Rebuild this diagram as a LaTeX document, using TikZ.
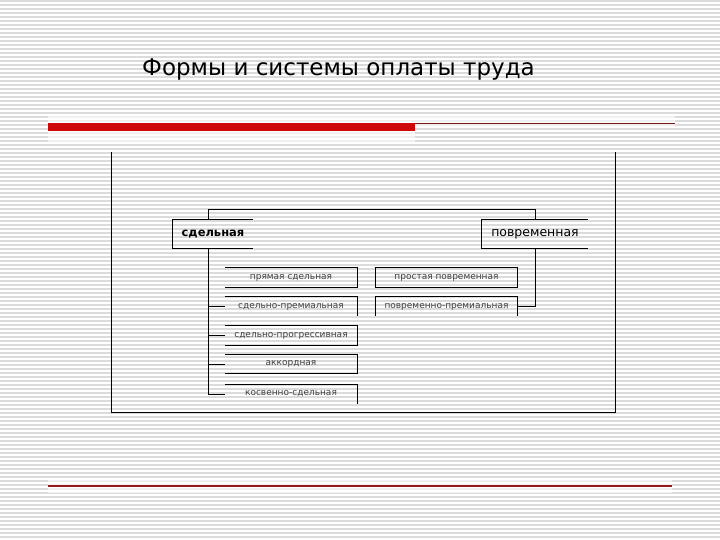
\documentclass[tikz,border=0pt]{standalone}
\usepackage{fontspec}
\setmainfont{DejaVu Sans}
\definecolor{barred}{RGB}{206,8,8}
\definecolor{linered}{RGB}{120,20,20}
\definecolor{footred}{RGB}{150,25,25}

\begin{document}
\begin{tikzpicture}[
    x = 1pt, y = -1pt,
    stripe/.style = {draw = black!14, line width = 1.2pt},
    frame/.style = {draw = black, line width = 1pt},
    link/.style = {draw = black, line width = 0.9pt},
    form/.style = {inner sep = 0pt, minimum height = 28pt, font = \fontsize{12.5}{14}\selectfont},
    sub/.style = {inner sep = 0pt, minimum width = 132pt, minimum height = 19pt,
                  text = black!75, font = \fontsize{9}{10}\selectfont},
    rsub/.style = {sub, minimum width = 141pt}]

\useasboundingbox (0,0) rectangle (720,540);
\fill[white] (0,0) rectangle (720,540);
\foreach \y in {1,5,...,540}
  \draw[stripe] (0,\y) -- (720,\y);

% light band round the red rules
\fill[white, opacity = 0.6] (48,115) rectangle (415,142)
             (415,116) rectangle (675,128)
             (48,479) rectangle (672,493);
\fill[barred] (48,123) rectangle (415,131);
\draw[linered, line width = 1pt] (415,124) -- (675,124);
\draw[footred, line width = 1.2pt] (48,486) -- (672,486);

% open frame
\draw[frame] (111,152) -- (111,412) -- (615,412) -- (615,152);

\path (338.5,70) node(title) {\fontsize{23}{27}\selectfont Формы и системы оплаты труда}
      (213,234) node[form, minimum width = 80pt, font = \fontsize{11.5}{14}\selectfont\bfseries](sdel) {сдельная}
      (535,234) node[form, minimum width = 106pt](povr) {повременная}
      (291,277.5) node[sub](s1) {прямая сдельная}
      (291,306.5) node[sub](s2) {сдельно-премиальная}
      (291,335.5) node[sub](s3) {сдельно-прогрессивная}
      (291,364) node[sub](s4) {аккордная}
      (291,394) node[sub](s5) {косвенно-сдельная}
      (446.5,277.5) node[rsub](r1) {простая повременная}
      (446.5,306.5) node[rsub](r2) {повременно-премиальная};
\coordinate (top) at (208,209);

% boxes
\draw[link] (sdel.north east) -- (sdel.north west) -- (sdel.south west) -- (sdel.south east);
\draw[link] (povr.north east) -- (povr.north west) -- (povr.south west) -- (povr.south east);
\foreach \b in {s1,s3,s4}
  \draw[link] (\b.north west) -- (\b.north east) -- (\b.south east) -- (\b.south west);
\draw[link] (s2.north west) -- (s2.north east) -- (s2.south east);
\draw[link] (s5.north west) -- (s5.north east) -- (s5.south east);
\draw[link] (r1.north west) rectangle (r1.south east);
\draw[link] (r2.south west) -- (r2.north west) -- (r2.north east) -- (r2.south east);

% connectors
\draw[link] (sdel.north -| top) -- (top) -| (povr.north);
\draw[link] (sdel.south -| top) |- (s5.west);
\foreach \b in {s2,s3,s4}
  \draw[link] (\b.west -| top) -- (\b.west);
\draw[link] (r2.east) -| (povr.south);
\end{tikzpicture}
\end{document}
